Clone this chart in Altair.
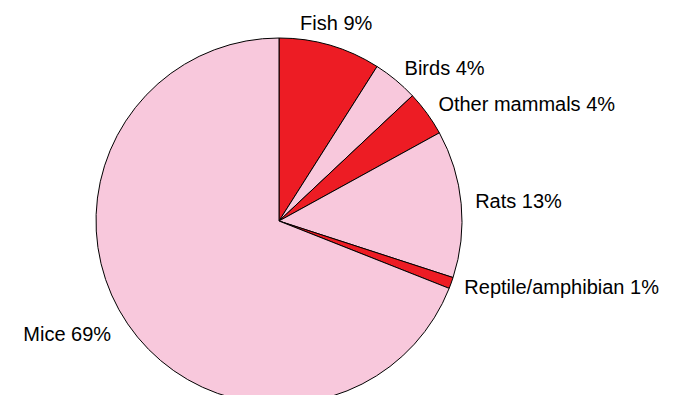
import altair as alt
import pandas as pd

labels = ["Fish", "Birds", "Other mammals", "Rats", "Reptile/amphibian", "Mice"]
values = [9, 4, 4, 13, 1, 69]
groups = ["red", "pink", "red", "pink", "red", "pink"]
anchors = ["center", "left", "left", "left", "left", "right"]

df = pd.DataFrame({
    "label": labels,
    "value": values,
    "group": groups,
    "anchor": anchors,
    "order": list(range(len(labels))),
})
df["text"] = [f"{l} {v}%" for l, v in zip(labels, values)]

theta_scale = alt.Scale(domain=[0, 100])

base = alt.Chart(df).transform_window(
    cum="sum(value)", sort=[alt.SortField("order")]
).transform_calculate(
    start="datum.cum - datum.value",
    mid="datum.cum - datum.value / 2",
)

arcs = base.mark_arc(outerRadius=183, stroke="black", strokeWidth=1).encode(
    theta=alt.Theta("start:Q", scale=theta_scale),
    theta2="cum:Q",
    color=alt.Color("group:N", scale=alt.Scale(domain=["red", "pink"], range=["#ED1C24", "#F8C8DC"]), legend=None),
    x=alt.value(271),
    y=alt.value(213),
)

def text_layer(anchor, radius):
    return base.transform_filter(alt.datum.anchor == anchor).mark_text(
        radius=radius, align=anchor, baseline="middle", font="Liberation Sans",
        fontSize=20, color="black",
    ).encode(
        theta=alt.Theta("mid:Q", scale=theta_scale),
        text="text:N",
        x=alt.value(271),
        y=alt.value(213),
    )

chart = alt.layer(
    arcs, text_layer("center", 205), text_layer("left", 197), text_layer("right", 203)
).properties(
    width=657, height=387, padding=0, autosize="none"
).configure_view(stroke=None)

chart.save("out.html", embed_options={"renderer": "svg", "actions": False})
